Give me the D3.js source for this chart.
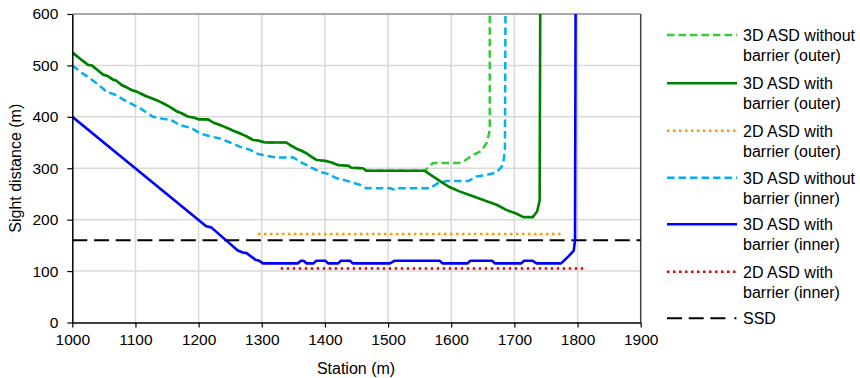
<!DOCTYPE html>
<html><head><meta charset="utf-8">
<script src="https://cdn.jsdelivr.net/npm/d3@7"></script>
<style>
html,body{margin:0;padding:0;background:#fff;}
text{font-family:"Liberation Sans",Arial,sans-serif;fill:#000;}
</style></head>
<body><svg id="chart" width="860" height="378"></svg>
<script>
// ---- data ----
const xTicks = [1000,1100,1200,1300,1400,1500,1600,1700,1800,1900];
const yTicks = [0,100,200,300,400,500,600];

const outerWithStations = [1000,1025,1031,1049,1055,1065,1070,1078,1085,1094,1102,1112,1117,1126,1136,1144,1155,1165,1173,1184,1191,1201,1215,1223,1234,1244,1255,1265,1276,1286,1294,1305,1339,1345,1355,1363,1371,1379,1387,1395,1402,1413,1421,1437,1442,1460,1466,1558,1587,1598,1613,1629,1640,1656,1672,1687,1703,1714,1729,1736,1740,1741];
const outerWithValues   = [525,501,500,482,480,472,470,462,458,452,449,443,440,436,431,426,419,411,407,400,399,395,395,389,384,379,373,368,362,355,354,350,350,345,338,334,329,322,316,315,314,310,306,305,301,300,295,295,271,263,255,248,243,236,229,219,212,205,205,216,237,640];

const outerWithoutStations = [1000,1025,1031,1049,1055,1065,1070,1078,1085,1094,1102,1112,1117,1126,1136,1144,1155,1165,1173,1184,1191,1201,1215,1223,1234,1244,1255,1265,1276,1286,1294,1305,1339,1345,1355,1363,1371,1379,1387,1395,1402,1413,1421,1437,1442,1460,1466,1558,1571,1587,1611,1619,1635,1648,1656,1660,1661,1661];
const outerWithoutValues   = [525,501,500,482,480,472,470,462,458,452,449,443,440,436,431,426,419,411,407,400,399,395,395,389,384,379,373,368,362,355,354,350,350,345,338,334,329,322,316,315,314,310,306,305,301,300,295,295,310,310,310,313,326,334,349,368,381,640];

const innerWithoutStations = [1000,1017,1039,1054,1068,1086,1107,1128,1144,1155,1170,1189,1202,1218,1234,1250,1265,1281,1294,1308,1323,1350,1360,1376,1392,1405,1418,1439,1455,1466,1503,1511,1518,1566,1579,1592,1627,1640,1656,1672,1680,1683,1685,1686];
const innerWithoutValues   = [500,484,465,449,443,430,417,400,396,395,384,378,368,362,358,350,342,336,328,324,321,321,313,303,293,289,281,274,268,261,261,258,261,261,271,275,275,284,287,292,303,316,336,640];

const innerWithStations = [1000,1212,1220,1262,1270,1276,1290,1296,1302,1357,1362,1366,1371,1382,1386,1401,1405,1421,1425,1440,1444,1503,1510,1582,1586,1626,1630,1665,1669,1711,1715,1729,1735,1774,1786,1794,1796,1797];
const innerWithValues   = [400,187,185,140,136,135,122,120,115,115,120,120,115,115,120,120,115,115,120,120,115,115,120,120,115,115,120,120,115,115,120,120,115,115,129,140,160,640];

const outer2DStations = [1294,1778];
const outer2DValues   = [172,172];
const inner2DStations = [1330,1812];
const inner2DValues   = [105,105];
const ssdStations = [1000,1900];
const ssdValues   = [160,160];

const legendLabels = [
  ["3D ASD without","barrier (outer)"],
  ["3D ASD with","barrier (outer)"],
  ["2D ASD with","barrier (outer)"],
  ["3D ASD without","barrier (inner)"],
  ["3D ASD with","barrier (inner)"],
  ["2D ASD with","barrier (inner)"],
  ["SSD"]
];

// ---- chart ----
const svg = d3.select("#chart");
const L = 72.3, R = 640.7, T = 14, B = 322.5;
const x = d3.scaleLinear().domain([1000,1900]).range([L,R]);
const y = d3.scaleLinear().domain([0,600]).range([B,T]);

// gridlines
svg.append("g").selectAll("line").data(yTicks.slice(1,-1)).join("line")
  .attr("x1",L).attr("x2",R).attr("y1",d=>y(d)).attr("y2",d=>y(d))
  .attr("stroke","#d9d9d9").attr("stroke-width",1.5);
svg.append("g").selectAll("line").data(xTicks.slice(1,-1)).join("line")
  .attr("y1",T).attr("y2",B).attr("x1",d=>x(d)).attr("x2",d=>x(d))
  .attr("stroke","#d9d9d9").attr("stroke-width",1.5);
// borders
svg.append("line").attr("x1",L).attr("x2",R).attr("y1",T).attr("y2",T).attr("stroke","#8c8c8c").attr("stroke-width",1.5);
svg.append("line").attr("x1",R).attr("x2",R).attr("y1",T).attr("y2",B).attr("stroke","#404040").attr("stroke-width",1.5);

// clip
svg.append("defs").append("clipPath").attr("id","clip").append("rect")
  .attr("x",L).attr("y",T).attr("width",R-L).attr("height",B-T);

const series = [
  {s:ssdStations, v:ssdValues, color:"#000000", w:2, dash:"15,6.7", legendDash:"15,6.7,15,6.7,15,9,2,10"},
  {s:outer2DStations, v:outer2DValues, color:"#ff9900", w:2.5, dash:"2.5,3.5"},
  {s:inner2DStations, v:inner2DValues, color:"#e00000", w:2.5, dash:"2.5,3.5"},
  {s:outerWithoutStations, v:outerWithoutValues, color:"#33cc33", w:2.5, dash:"7.5,4"},
  {s:innerWithoutStations, v:innerWithoutValues, color:"#00b0f0", w:2.5, dash:"7.5,4"},
  {s:outerWithStations, v:outerWithValues, color:"#008000", w:2.6, dash:null},
  {s:innerWithStations, v:innerWithValues, color:"#0000ff", w:2.6, dash:null}
];
const line = d3.line().x(d=>x(d[0])).y(d=>y(d[1]));
const gLines = svg.append("g").attr("clip-path","url(#clip)");
series.forEach(sr=>{
  gLines.append("path").datum(d3.zip(sr.s, sr.v))
    .attr("d",line).attr("fill","none").attr("stroke",sr.color)
    .attr("stroke-width",sr.w).attr("stroke-linejoin","round")
    .attr("stroke-dasharray",sr.dash);
});

// axes
const xAxis = svg.append("g").attr("transform",`translate(0,${B})`)
  .call(d3.axisBottom(x).tickValues(xTicks).tickFormat(d3.format("d")).tickSizeOuter(0).tickSizeInner(5).tickPadding(6));
const yAxis = svg.append("g").attr("transform",`translate(${L},0)`)
  .call(d3.axisLeft(y).tickValues(yTicks).tickFormat(d3.format("d")).tickSizeOuter(0).tickSizeInner(5).tickPadding(9));
[xAxis,yAxis].forEach(a=>{
  a.select(".domain").attr("stroke","#000").attr("stroke-width",1.5);
  a.selectAll(".tick line").attr("stroke","#000").attr("stroke-width",1.2);
  a.selectAll(".tick text").attr("font-size","15.5px").attr("font-family","Liberation Sans, Arial, sans-serif").attr("fill","#000");
});

// titles
svg.append("text").attr("x",356).attr("y",374).attr("text-anchor","middle").attr("font-size","16px").text("Station (m)");
svg.append("text").attr("transform",`translate(21,${(T+B)/2}) rotate(-90)`).attr("text-anchor","middle").attr("font-size","16px").text("Sight distance (m)");

// legend
const legendSeries = [series[3],series[5],series[1],series[4],series[6],series[2],series[0]];
const legendY = [35,83.3,130.7,177.7,224.3,271.7,318.3];
legendSeries.forEach((sr,i)=>{
  const ly = legendY[i];
  svg.append("line").attr("x1",667).attr("x2",737).attr("y1",ly).attr("y2",ly)
    .attr("stroke",sr.color).attr("stroke-width",sr.w).attr("stroke-dasharray",sr.legendDash || sr.dash);
  const t = svg.append("text").attr("x",743).attr("font-size","16px");
  legendLabels[i].forEach((lab,j)=>{
    t.append("tspan").attr("x",743).attr("y",ly+6+j*20).text(lab);
  });
});
</script>
</body></html>
